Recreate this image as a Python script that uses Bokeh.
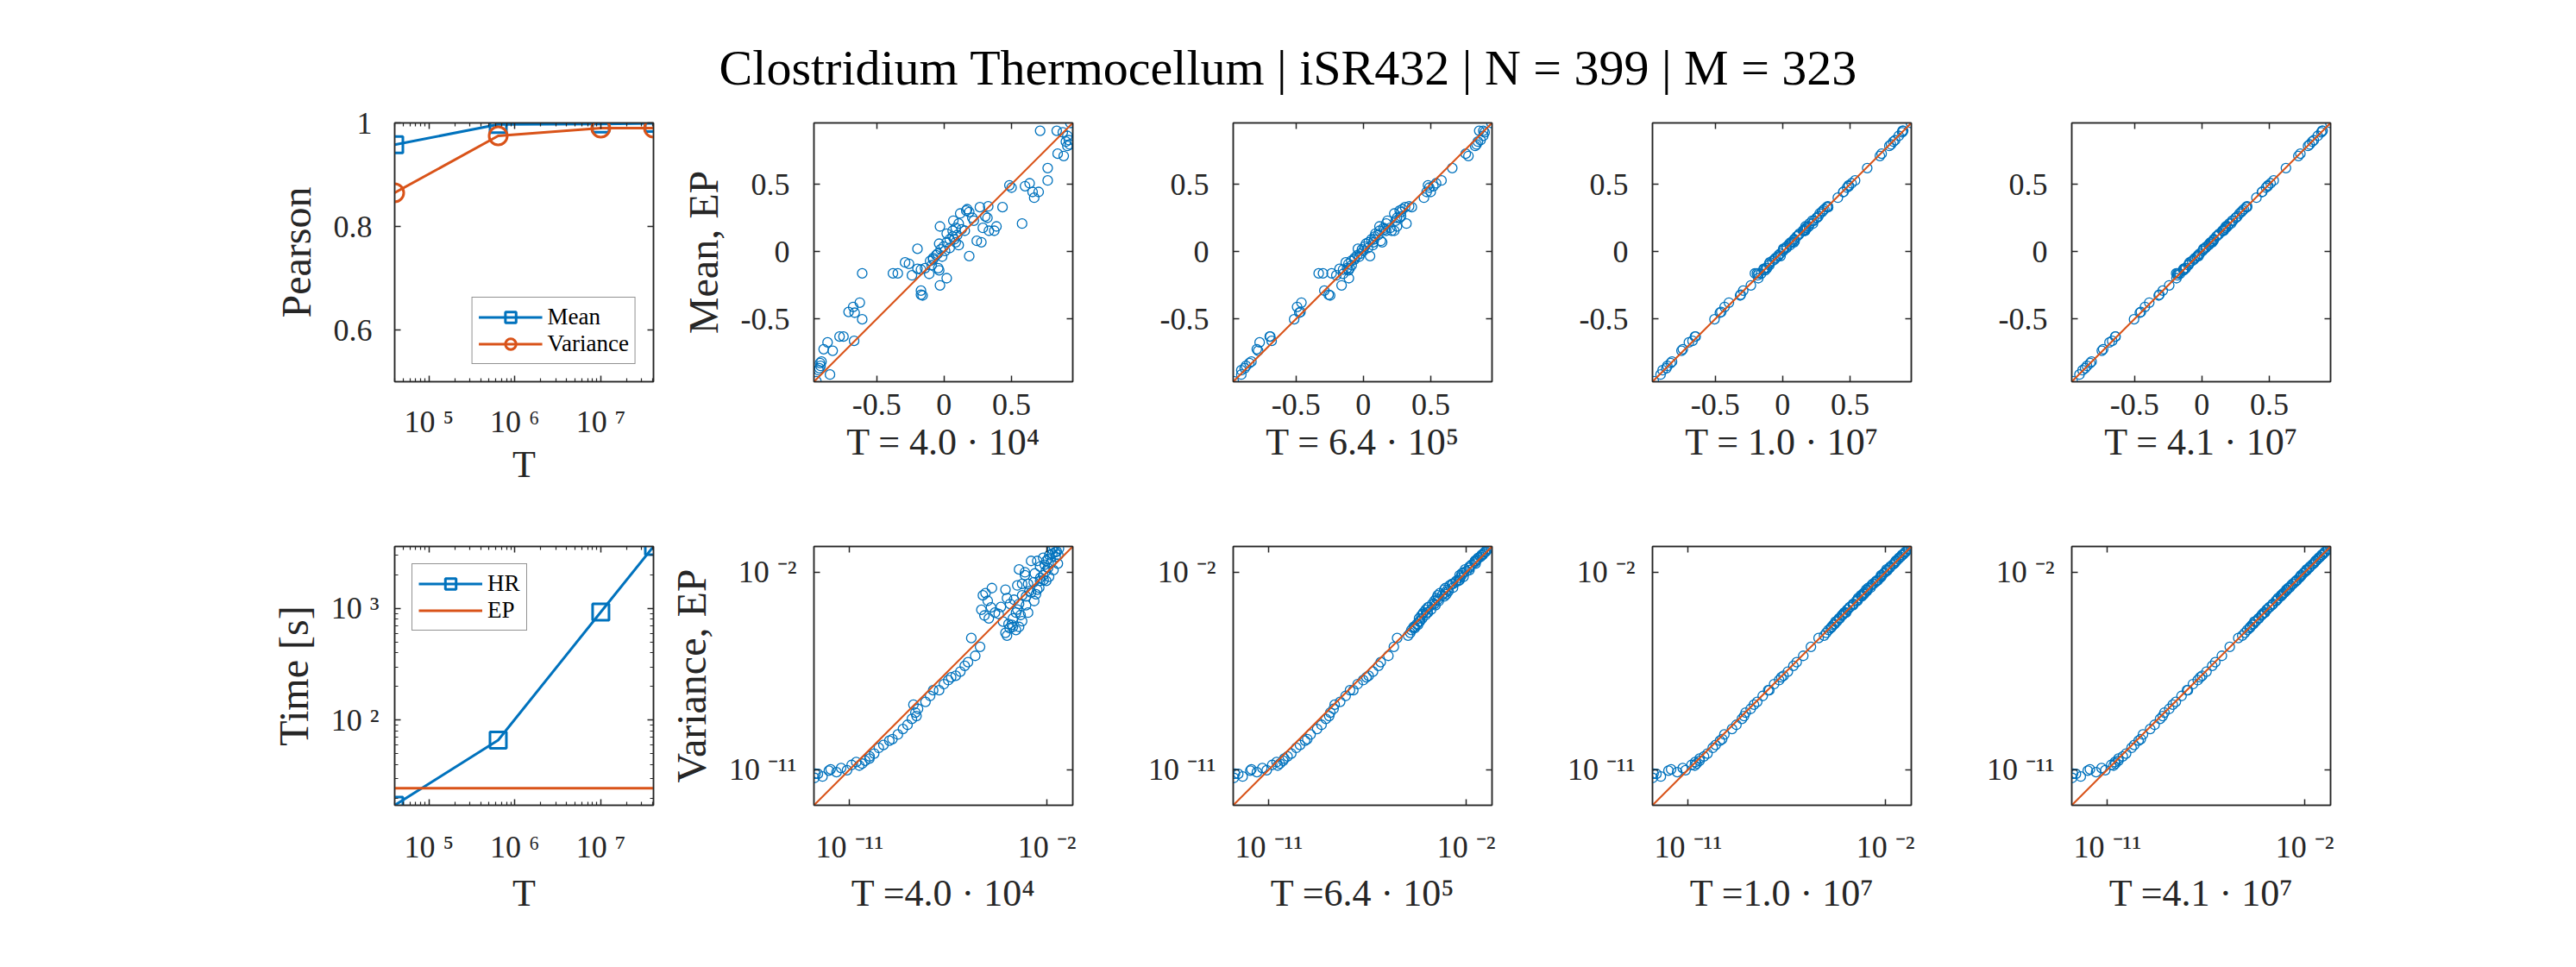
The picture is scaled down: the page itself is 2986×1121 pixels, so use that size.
from bokeh.plotting import figure
from bokeh.layouts import column, row
from bokeh.models import (LinearAxis, LogAxis, FixedTicker, CustomJSTickFormatter,
                          Legend, LegendItem, Label, Range1d)
from bokeh.embed import file_html
from bokeh.resources import INLINE

# ---------------- data ----------------
TITLE = "Clostridium Thermocellum | iSR432 | N = 399 | M = 323"
T_values = [4.0e4, 6.4e5, 1.0e7, 4.1e7]
T_top_labels = ["T = 4.0 · 10⁴", "T = 6.4 · 10⁵", "T = 1.0 · 10⁷", "T = 4.1 · 10⁷"]
T_bottom_labels = ["T =4.0 · 10⁴", "T =6.4 · 10⁵", "T =1.0 · 10⁷", "T =4.1 · 10⁷"]

pearson_mean = [0.958, 0.997, 0.998, 0.999]
pearson_variance = [0.865, 0.975, 0.990, 0.990]
time_hr = [17.2, 66.0, 930.0, 3600.0]
time_ep = [24.5, 24.5, 24.5, 24.5]

# mean of flux marginals: EP (y, shared) and HR at each T (x)
ep_mean = [-0.961, -0.826, -0.848, -0.865, -0.816, -0.880, -0.912, -0.724, -0.673, -0.735,
           -0.630, -0.630, -0.662, -0.447, -0.410, -0.378, -0.453, -0.502, -0.161, -0.161,
           -0.161, -0.080, -0.090, 0.021, -0.176, -0.127, -0.133, -0.122, -0.289, -0.319,
           -0.325, -0.165, -0.101, -0.058, -0.122, -0.139, -0.250, -0.197, -0.016, 0.016,
           0.038, 0.070, 0.091, 0.112, 0.070, 0.048, 0.059, -0.037, 0.006, 0.027,
           0.091, 0.123, -0.048, -0.026, -0.069, 0.187, 0.134, 0.155, 0.176, 0.208,
           0.166, 0.155, 0.230, 0.283, 0.304, 0.315, 0.294, 0.251, 0.230, -0.033,
           0.080, 0.070, 0.330, 0.336, 0.262, 0.251, 0.176, 0.155, 0.155, 0.187,
           0.330, 0.208, 0.492, 0.475, 0.486, 0.507, 0.443, 0.400, 0.443, 0.620,
           0.528, 0.727, 0.710, 0.897, 0.897, 0.885, 0.859, 0.827, 0.816, 0.795,
           0.784, 0.955]
hr_mean_T1 = [-0.947, -0.920, -0.916, -0.925, -0.909, -0.931, -0.846, -0.893, -0.864, -0.826,
              -0.775, -0.746, -0.667, -0.708, -0.674, -0.625, -0.663, -0.607, -0.607, -0.379,
              -0.343, -0.289, -0.260, -0.197, -0.238, -0.197, -0.171, -0.141, -0.171, -0.171,
              -0.159, -0.110, -0.092, -0.081, -0.043, -0.036, -0.030, 0.020, -0.048, -0.025,
              -0.003, 0.020, 0.042, 0.064, 0.087, 0.109, -0.036, -0.014, 0.008, 0.042,
              0.076, 0.098, -0.081, -0.059, -0.103, -0.030, 0.020, 0.064, 0.087, 0.109,
              0.131, 0.154, 0.069, 0.120, 0.165, 0.172, 0.187, 0.210, 0.221, 0.187,
              0.243, 0.277, 0.266, 0.328, 0.306, 0.322, 0.288, 0.333, 0.373, 0.389,
              0.434, 0.579, 0.485, 0.501, 0.601, 0.635, 0.657, 0.669, 0.702, 0.769,
              0.769, 0.843, 0.888, 0.713, 0.836, 0.881, 0.915, 0.926, 0.904, 0.933,
              0.915, 0.937]
hr_mean_T2 = [-0.961, -0.845, -0.870, -0.880, -0.830, -0.905, -0.905, -0.790, -0.769, -0.780,
              -0.694, -0.690, -0.680, -0.466, -0.491, -0.459, -0.475, -0.513, -0.331, -0.299,
              -0.235, -0.130, -0.110, -0.040, -0.200, -0.176, -0.150, -0.120, -0.289, -0.257,
              -0.246, -0.150, -0.086, -0.065, -0.100, -0.110, -0.161, -0.107, -0.022, -0.010,
              0.010, 0.040, 0.060, 0.085, 0.075, 0.070, 0.020, -0.030, 0.000, 0.035,
              0.080, 0.110, -0.065, -0.045, -0.090, 0.120, 0.090, 0.120, 0.150, 0.170,
              0.160, 0.170, 0.180, 0.230, 0.270, 0.290, 0.280, 0.250, 0.240, 0.050,
              0.130, 0.140, 0.310, 0.340, 0.280, 0.270, 0.200, 0.210, 0.230, 0.250,
              0.360, 0.320, 0.480, 0.490, 0.520, 0.540, 0.470, 0.450, 0.500, 0.660,
              0.580, 0.760, 0.780, 0.860, 0.890, 0.900, 0.890, 0.870, 0.850, 0.840,
              0.830, 0.950]
hr_mean_T3 = [-0.955, -0.830, -0.855, -0.862, -0.820, -0.890, -0.905, -0.740, -0.695, -0.750,
              -0.650, -0.645, -0.668, -0.455, -0.430, -0.398, -0.465, -0.505, -0.205, -0.190,
              -0.178, -0.095, -0.100, 0.005, -0.185, -0.140, -0.140, -0.125, -0.292, -0.310,
              -0.315, -0.160, -0.098, -0.060, -0.115, -0.130, -0.235, -0.180, -0.018, 0.010,
              0.030, 0.062, 0.085, 0.105, 0.072, 0.055, 0.050, -0.035, 0.004, 0.030,
              0.088, 0.118, -0.052, -0.030, -0.075, 0.170, 0.125, 0.150, 0.172, 0.200,
              0.166, 0.158, 0.220, 0.275, 0.300, 0.310, 0.292, 0.252, 0.232, -0.015,
              0.090, 0.085, 0.328, 0.336, 0.266, 0.256, 0.182, 0.165, 0.168, 0.195,
              0.338, 0.225, 0.490, 0.478, 0.492, 0.512, 0.450, 0.410, 0.452, 0.628,
              0.538, 0.735, 0.722, 0.890, 0.895, 0.887, 0.862, 0.835, 0.822, 0.805,
              0.792, 0.952]
hr_mean_T4 = [-0.958, -0.828, -0.852, -0.866, -0.818, -0.885, -0.908, -0.732, -0.685, -0.742,
              -0.642, -0.640, -0.665, -0.452, -0.422, -0.390, -0.460, -0.503, -0.190, -0.180,
              -0.172, -0.090, -0.096, 0.012, -0.180, -0.135, -0.138, -0.124, -0.290, -0.315,
              -0.320, -0.163, -0.100, -0.059, -0.118, -0.135, -0.242, -0.188, -0.017, 0.013,
              0.034, 0.066, 0.088, 0.108, 0.071, 0.051, 0.055, -0.036, 0.005, 0.028,
              0.090, 0.120, -0.050, -0.028, -0.072, 0.178, 0.130, 0.152, 0.174, 0.204,
              0.166, 0.156, 0.225, 0.279, 0.302, 0.312, 0.293, 0.251, 0.231, -0.024,
              0.085, 0.078, 0.329, 0.336, 0.264, 0.253, 0.179, 0.160, 0.162, 0.191,
              0.334, 0.216, 0.491, 0.476, 0.489, 0.510, 0.446, 0.405, 0.448, 0.624,
              0.533, 0.731, 0.716, 0.893, 0.896, 0.886, 0.860, 0.831, 0.819, 0.800,
              0.788, 0.953]

# variance of flux marginals, stored as log10: EP (y, shared) and HR at each T (x)
ep_var_log10 = [-11.38, -11.19, -11.32, -10.99, -11.12, -10.93, -11.03, -10.79, -10.66, -10.82,
                -10.73, -10.60, -10.40, -10.27, -10.01, -9.88, -9.68, -9.61, -9.15, -8.96,
                -8.69, -8.56, -8.23, -8.04, -7.91, -7.64, -7.38, -7.38, -6.92, -6.79,
                -6.72, -6.53, -6.27, -5.81, -3.05, -2.72, -3.71, -3.97, -4.10, -3.84,
                -3.58, -2.79, -3.18, -3.44, -4.76, -4.89, -4.36, -4.10, -3.84, -3.44,
                -3.05, -1.87, -2.13, -2.53, -2.92, -3.31, -2.79, -2.39, -2.13, -2.39,
                -1.74, -1.34, -1.48, -1.21, -0.95, -0.82, -1.08, -1.21, -1.48, -1.48,
                -2.00, -2.53, -3.84, -4.23, -4.49, -4.49, -4.63,
                -2.95, -3.30, -3.60, -3.90, -4.25, -4.55, -4.40, -3.70, -3.25, -3.10,
                -2.85, -2.60, -2.45, -2.25, -2.05, -1.95, -1.80, -1.65, -1.55, -1.40,
                -1.30, -1.15, -1.05, -0.92, -2.70, -3.00, -3.50, -3.95, -2.20, -1.90,
                -1.60, -2.35, -5.00, -5.40, -6.10, -7.10, -8.40, -9.40, -10.50, -11.20,
                -11.05]
hr_var_log10_T1 = [-12.60, -12.56, -12.24, -11.87, -11.60, -11.39, -11.12, -10.91, -10.70, -10.56,
                   -10.43, -10.29, -10.09, -9.88, -9.67, -9.46, -9.19, -9.05, -8.57, -8.36,
                   -8.16, -7.95, -7.88, -8.09, -7.54, -7.33, -7.19, -6.92, -6.50, -6.37,
                   -6.16, -5.95, -5.75, -5.27, -4.92, -4.51, -4.99, -4.85, -4.65, -4.37,
                   -4.10, -3.89, -3.82, -3.68, -3.89, -3.82, -3.75, -3.55, -3.41, -3.27,
                   -3.13, -3.27, -3.00, -2.86, -2.72, -2.58, -2.44, -2.31, -2.17, -2.03,
                   -2.31, -2.17, -2.03, -1.89, -1.76, -1.69, -1.62, -1.48, -2.44, -2.72,
                   -3.00, -3.13, -2.86, -3.13, -3.27, -3.55, -3.41,
                   -4.80, -4.70, -4.55, -4.20, -4.00, -3.70, -3.60, -3.35, -3.50, -2.95,
                   -2.80, -3.35, -2.60, -2.30, -2.55, -2.05, -1.95, -2.10, -1.80, -1.95,
                   -1.60, -1.75, -1.55, -1.45, -2.35, -2.50, -2.95, -3.20, -1.90, -1.70,
                   -1.50, -2.15, -5.45, -5.05, -5.60, -6.70, -8.00, -8.80, -10.10, -12.45,
                   -11.95]
hr_var_log10_T2 = [-12.60, -12.55, -12.20, -11.80, -11.55, -11.30, -11.10, -10.85, -10.65, -10.60,
                   -10.50, -10.35, -10.15, -9.98, -9.75, -9.58, -9.35, -9.25, -8.80, -8.60,
                   -8.40, -8.25, -8.05, -8.00, -7.75, -7.50, -7.30, -7.15, -6.70, -6.55,
                   -6.45, -6.25, -6.00, -5.55, -3.30, -2.95, -3.85, -4.05, -4.15, -3.95,
                   -3.70, -3.00, -3.35, -3.55, -4.55, -4.65, -4.25, -4.00, -3.80, -3.45,
                   -3.10, -2.05, -2.30, -2.65, -2.95, -3.25, -2.85, -2.45, -2.20, -2.35,
                   -1.85, -1.45, -1.55, -1.30, -1.05, -0.90, -1.15, -1.25, -1.60, -1.60,
                   -2.10, -2.60, -3.75, -4.10, -4.35, -4.40, -4.50,
                   -3.20, -3.45, -3.75, -3.98, -4.15, -4.35, -4.20, -3.60, -3.30, -3.00,
                   -2.80, -2.75, -2.48, -2.28, -2.20, -1.98, -1.85, -1.75, -1.62, -1.50,
                   -1.35, -1.22, -1.10, -0.97, -2.60, -2.90, -3.40, -3.85, -2.12, -1.85,
                   -1.57, -2.30, -5.15, -5.30, -5.90, -6.95, -8.20, -9.10, -10.30, -12.40,
                   -11.85]
hr_var_log10_T3 = [-12.62, -12.58, -12.25, -11.78, -11.50, -11.25, -11.12, -10.85, -10.68, -10.70,
                   -10.62, -10.48, -10.28, -10.12, -9.88, -9.75, -9.55, -9.45, -9.00, -8.80,
                   -8.55, -8.45, -8.15, -8.00, -7.85, -7.60, -7.35, -7.30, -6.85, -6.75,
                   -6.65, -6.45, -6.20, -5.75, -3.12, -2.80, -3.75, -4.00, -4.12, -3.88,
                   -3.62, -2.88, -3.25, -3.48, -4.70, -4.80, -4.32, -4.08, -3.82, -3.45,
                   -3.07, -1.95, -2.20, -2.58, -2.93, -3.28, -2.82, -2.42, -2.16, -2.38,
                   -1.78, -1.38, -1.50, -1.25, -0.98, -0.85, -1.10, -1.22, -1.52, -1.53,
                   -2.03, -2.55, -3.80, -4.20, -4.45, -4.46, -4.60,
                   -3.00, -3.33, -3.64, -3.93, -4.28, -4.50, -4.38, -3.72, -3.26, -3.08,
                   -2.84, -2.64, -2.46, -2.25, -2.08, -1.95, -1.81, -1.67, -1.56, -1.42,
                   -1.31, -1.16, -1.06, -0.93, -2.68, -2.98, -3.48, -3.95, -2.19, -1.90,
                   -1.60, -2.34, -5.05, -5.40, -6.05, -7.08, -8.38, -9.35, -10.48, -12.45,
                   -11.90]
hr_var_log10_T4 = [-12.61, -12.57, -12.22, -11.80, -11.52, -11.27, -11.10, -10.83, -10.66, -10.72,
                   -10.64, -10.50, -10.30, -10.15, -9.90, -9.78, -9.58, -9.48, -9.05, -8.85,
                   -8.60, -8.48, -8.18, -8.02, -7.88, -7.62, -7.37, -7.33, -6.88, -6.77,
                   -6.68, -6.48, -6.22, -5.78, -3.08, -2.76, -3.73, -3.98, -4.11, -3.86,
                   -3.60, -2.84, -3.22, -3.46, -4.73, -4.85, -4.34, -4.09, -3.83, -3.44,
                   -3.06, -1.91, -2.17, -2.55, -2.92, -3.30, -2.80, -2.40, -2.14, -2.38,
                   -1.76, -1.36, -1.49, -1.23, -0.96, -0.84, -1.09, -1.21, -1.50, -1.50,
                   -2.02, -2.54, -3.82, -4.22, -4.48, -4.48, -4.62,
                   -2.98, -3.32, -3.62, -3.92, -4.30, -4.52, -4.40, -3.73, -3.25, -3.09,
                   -2.85, -2.62, -2.45, -2.25, -2.07, -1.95, -1.80, -1.66, -1.55, -1.41,
                   -1.30, -1.15, -1.05, -0.92, -2.69, -3.00, -3.50, -3.96, -2.20, -1.90,
                   -1.60, -2.35, -5.03, -5.42, -6.08, -7.10, -8.40, -9.38, -10.50, -12.44,
                   -11.90]

# axis limits / ticks
T_LIM = (4.0e4, 4.1e7)
PEARSON_LIM = (0.5, 1.0)
TIME_LIM = (17.2, 3600.0)
MEAN_LIM = (-0.965, 0.955)
VAR_LIM_LOG10 = (-12.63, -0.82)
T_TICKS = [1e5, 1e6, 1e7]
T_MINOR = [m * 10 ** e for e in (4, 5, 6, 7) for m in range(2, 10) if T_LIM[0] <= m * 10 ** e <= T_LIM[1]]
TIME_TICKS = [1e2, 1e3]
TIME_MINOR = [m * 10 ** e for e in (1, 2, 3) for m in range(2, 10) if TIME_LIM[0] <= m * 10 ** e <= TIME_LIM[1]]

# ---------------- style ----------------
BLUE = "#0072BD"
ORANGE = "#D95319"
INK = "#262626"
FONT = "Liberation Serif"
TICK_FS = "36px"
XLABEL_FS = "44px"
YLABEL_FS = "48px"
TITLE_H = 117

SUP_JS = """
const m = {"-":"\u207b","0":"\u2070","1":"\u00b9","2":"\u00b2","3":"\u00b3","4":"\u2074",
           "5":"\u2075","6":"\u2076","7":"\u2077","8":"\u2078","9":"\u2079"};
const e = Math.round(Math.log10(tick));
return "10 " + String(e).split("").map(c => m[c]).join("");
"""
ZERO_JS = 'return (Math.abs(tick) < 1e-9) ? "0" : tick.toFixed(1);'
ONE_JS = 'return (Math.abs(tick - 1) < 1e-9) ? "1" : tick.toFixed(1);'
BLANK_JS = 'return "";'


def make_fig(x_log, y_log, xr, yr, left, top, right=10, bottom=150):
    p = figure(frame_width=300, frame_height=300,
               x_axis_type="log" if x_log else "linear",
               y_axis_type="log" if y_log else "linear",
               x_range=Range1d(*xr), y_range=Range1d(*yr),
               min_border_left=left, min_border_right=right,
               min_border_top=top, min_border_bottom=bottom,
               toolbar_location=None, output_backend="svg")
    p.grid.visible = False
    p.outline_line_color = INK
    p.outline_line_width = 1.5
    p.background_fill_color = "white"
    p.border_fill_color = "white"
    return p


def setup_axes(p, x_log, y_log, xticks, xminor, yticks, yminor, xfmt, yfmt, xlabel, ylabel,
               x_tick_standoff, x_label_standoff, y_tick_standoff):
    top_ax = (LogAxis if x_log else LinearAxis)(ticker=FixedTicker(ticks=xticks, minor_ticks=xminor),
                                                formatter=CustomJSTickFormatter(code=BLANK_JS))
    right_ax = (LogAxis if y_log else LinearAxis)(ticker=FixedTicker(ticks=yticks, minor_ticks=yminor),
                                                  formatter=CustomJSTickFormatter(code=BLANK_JS))
    p.add_layout(top_ax, "above")
    p.add_layout(right_ax, "right")
    bx = p.below[0]
    ly = p.left[0]
    bx.ticker = FixedTicker(ticks=xticks, minor_ticks=xminor)
    ly.ticker = FixedTicker(ticks=yticks, minor_ticks=yminor)
    bx.formatter = CustomJSTickFormatter(code=xfmt)
    ly.formatter = CustomJSTickFormatter(code=yfmt)
    for ax in (bx, ly, top_ax, right_ax):
        ax.axis_line_color = INK
        ax.axis_line_width = 1.5
        ax.major_tick_line_color = INK
        ax.major_tick_line_width = 1.5
        ax.major_tick_in = 7
        ax.major_tick_out = 0
        ax.minor_tick_line_color = INK
        ax.minor_tick_line_width = 1.2
        ax.minor_tick_in = 4
        ax.minor_tick_out = 0
        ax.major_label_text_font = FONT
        ax.major_label_text_color = INK
        ax.major_label_text_font_size = TICK_FS
        ax.axis_label_text_font = FONT
        ax.axis_label_text_font_style = "normal"
        ax.axis_label_text_color = INK
    for ax in (top_ax, right_ax):
        ax.major_label_text_font_size = "2px"
        ax.major_label_standoff = 1
    bx.major_label_standoff = x_tick_standoff
    bx.axis_label_standoff = x_label_standoff
    bx.axis_label = xlabel
    bx.axis_label_text_font_size = XLABEL_FS
    ly.major_label_standoff = y_tick_standoff
    ly.axis_label_standoff = 14
    ly.axis_label_text_font_size = YLABEL_FS
    if ylabel:
        ly.axis_label = ylabel


def style_legend(leg, loc):
    leg.location = loc
    leg.border_line_color = INK
    leg.border_line_width = 1.3
    leg.background_fill_color = "white"
    leg.background_fill_alpha = 1.0
    leg.label_text_font = FONT
    leg.label_text_font_size = "27px"
    leg.label_text_color = "black"
    leg.glyph_width = 74
    leg.glyph_height = 31
    leg.label_height = 31
    leg.label_standoff = 6
    leg.spacing = 0
    leg.padding = 7
    leg.margin = 20


# ---------------- title ----------------
tp = figure(frame_width=2986, frame_height=TITLE_H, x_range=Range1d(0, 2986), y_range=Range1d(0, TITLE_H),
            min_border=0, x_axis_location=None, y_axis_location=None,
            toolbar_location=None, output_backend="svg")
tp.grid.visible = False
tp.outline_line_color = None
tp.add_layout(Label(x=1493, y=TITLE_H - 78, text=TITLE, text_align="center", text_baseline="middle",
                    text_font=FONT, text_font_size="58px", text_color="black"))

# ---------------- top row ----------------
top_figs = []
p = make_fig(True, False, T_LIM, PEARSON_LIM, left=457, top=142 - TITLE_H)
setup_axes(p, True, False, T_TICKS, T_MINOR, [0.6, 0.8, 1.0], [], SUP_JS, ONE_JS, "T", "Pearson",
           26, 2, 26)
l1 = p.line(T_values, pearson_mean, line_color=BLUE, line_width=3)
s1 = p.scatter(T_values, pearson_mean, marker="square", size=19, fill_color=None,
               line_color=BLUE, line_width=3)
l2 = p.line(T_values, pearson_variance, line_color=ORANGE, line_width=3)
s2 = p.scatter(T_values, pearson_variance, marker="circle", size=21, fill_color=None,
               line_color=ORANGE, line_width=3)
leg = Legend(items=[LegendItem(label="Mean", renderers=[l1, s1]),
                    LegendItem(label="Variance", renderers=[l2, s2])])
style_legend(leg, "bottom_right")
p.add_layout(leg)
top_figs.append(p)

for i, hr in enumerate([hr_mean_T1, hr_mean_T2, hr_mean_T3, hr_mean_T4]):
    p = make_fig(False, False, MEAN_LIM, MEAN_LIM, left=176, top=142 - TITLE_H)
    setup_axes(p, False, False, [-0.5, 0, 0.5], [], [-0.5, 0, 0.5], [], ZERO_JS, ZERO_JS,
               T_top_labels[i], "Mean, EP" if i == 0 else None, 14, 4, 28)
    p.scatter(hr, ep_mean, marker="circle", size=11, fill_color=None, line_color=BLUE, line_width=1.3)
    p.line(list(MEAN_LIM), list(MEAN_LIM), line_color=ORANGE, line_width=2)
    top_figs.append(p)

# ---------------- bottom row ----------------
bot_figs = []
p = make_fig(True, True, T_LIM, TIME_LIM, left=457, top=41)
setup_axes(p, True, True, T_TICKS, T_MINOR, TIME_TICKS, TIME_MINOR, SUP_JS, SUP_JS, "T", "Time [s]",
           28, 6, 18)
l1 = p.line(T_values, time_hr, line_color=BLUE, line_width=3)
s1 = p.scatter(T_values, time_hr, marker="square", size=19, fill_color=None,
               line_color=BLUE, line_width=3)
l2 = p.line(T_values, time_ep, line_color=ORANGE, line_width=3)
leg = Legend(items=[LegendItem(label="HR", renderers=[l1, s1]),
                    LegendItem(label="EP", renderers=[l2])])
style_legend(leg, "top_left")
p.add_layout(leg)
bot_figs.append(p)

var_lim = (10 ** VAR_LIM_LOG10[0], 10 ** VAR_LIM_LOG10[1])
ep_var = [10 ** v for v in ep_var_log10]
for i, hr in enumerate([hr_var_log10_T1, hr_var_log10_T2, hr_var_log10_T3, hr_var_log10_T4]):
    p = make_fig(True, True, var_lim, var_lim, left=176, top=41)
    setup_axes(p, True, True, [1e-11, 1e-2], [], [1e-11, 1e-2], [], SUP_JS, SUP_JS,
               T_bottom_labels[i], "Variance, EP" if i == 0 else None, 28, 6, 20)
    p.scatter([10 ** v for v in hr], ep_var, marker="circle", size=11, fill_color=None,
              line_color=BLUE, line_width=1.3)
    p.line(list(var_lim), list(var_lim), line_color=ORANGE, line_width=2)
    bot_figs.append(p)

layout = column(tp, row(*top_figs, spacing=0), row(*bot_figs, spacing=0), spacing=0)

open("out.html", "w").write(file_html(layout, INLINE))
